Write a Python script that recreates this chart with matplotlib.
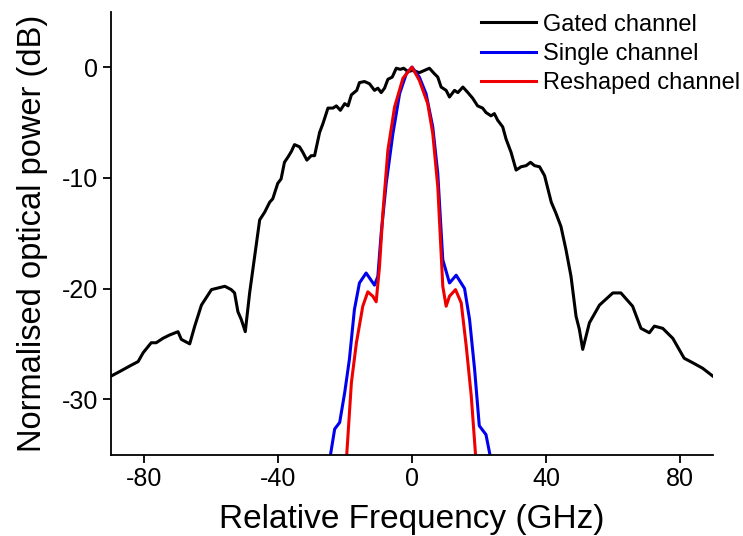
import numpy as np
import matplotlib
matplotlib.use("Agg")
import matplotlib.pyplot as plt

plt.rcParams['font.family'] = ['Liberation Sans', 'DejaVu Sans']
plt.rcParams['axes.unicode_minus'] = False

# gated channel (GHz, dB)
gated_f = [-89.8, -87.3, -84.3, -81.8, -80.3, -77.9, -76.4, -74.4, -72.4, -69.9, -68.9, -66.4,
           -64.9, -62.9, -59.9, -55.9, -54.0, -53.0, -52.0, -51.0, -49.8, -48.5, -47.0, -45.5,
           -44.0, -42.5, -41.6, -40.1, -39.1, -38.1, -37.0, -36.0, -35.1, -33.6, -32.6, -31.4,
           -30.1, -29.1, -27.6, -26.6, -25.1, -23.6, -22.6, -21.4, -20.1, -19.1, -18.1, -16.5,
           -15.7, -14.2, -12.7, -11.2, -10.2, -9.2, -8.2, -7.2, -5.9, -4.7, -3.5, -2.5, -1.2,
           0.2, 2.2, 3.7, 5.2, 6.7, 7.7, 8.7, 10.2, 11.2, 12.7, 13.7, 15.2, 16.7, 18.1, 19.6,
           21.1, 22.1, 23.6, 24.6, 25.6, 27.1, 28.1, 29.6, 31.1, 32.6, 34.1, 35.4, 36.6, 38.1,
           39.6, 41.6, 43.0, 44.5, 46.0, 47.5, 49.0, 50.0, 51.0, 53.0, 56.0, 60.0, 62.4, 65.9,
           68.4, 70.9, 72.4, 74.9, 77.9, 81.3, 83.8, 86.8, 89.8]
gated_db = [-27.9, -27.5, -27.0, -26.6, -25.8, -24.9, -24.9, -24.5, -24.2, -23.9, -24.6, -25.0,
            -23.4, -21.5, -20.1, -19.8, -20.1, -20.4, -22.1, -22.8, -23.9, -20.4, -17.1, -13.8,
            -13.1, -12.2, -11.9, -10.5, -10.1, -8.6, -8.1, -7.6, -7.0, -7.2, -7.7, -8.4,
            -8.0, -8.0, -5.9, -5.1, -3.7, -3.7, -3.5, -3.9, -3.3, -3.5, -2.5, -2.1,
            -1.4, -1.3, -1.5, -2.1, -1.9, -2.3, -1.9, -1.1, -0.9, -0.1, -0.2, -0.1, -0.4,
            -0.3, -0.5, -0.3, -0.1, -0.6, -0.9, -1.8, -2.1, -2.7, -2.1, -2.3, -1.8, -2.3, -2.8, -3.5,
            -3.7, -4.1, -4.4, -4.2, -4.8, -5.4, -6.5, -7.7, -9.3, -9.0, -8.9, -8.6, -8.9, -9.0,
            -9.8, -12.2, -13.2, -14.4, -16.5, -18.9, -22.5, -23.7, -25.5, -23.1, -21.5, -20.4, -20.4, -21.6,
            -23.6, -24.0, -23.4, -23.6, -24.5, -26.3, -26.7, -27.2, -27.9]

single_f = [-24.6, -23.1, -21.6, -20.1, -18.7, -17.2, -15.7, -13.7, -11.2, -10.2, -9.2, -7.7,
            -5.7, -3.7, -1.7, 0.0, 2.2, 4.2, 6.2, 7.7, 9.2, 11.2, 13.2, 15.7, 17.2, 18.7,
            20.1, 22.1, 23.6]
single_db = [-35.5, -32.7, -32.1, -29.4, -26.4, -21.9, -19.5, -18.6, -19.7, -18.9, -15.0, -10.5,
             -6.0, -2.4, -0.6, 0.0, -0.9, -2.4, -5.4, -9.6, -17.4, -19.5, -18.8, -20.0, -22.8, -27.3,
             -32.4, -33.2, -35.5]

reshaped_f = [-19.6, -18.1, -16.6, -14.7, -13.2, -11.7, -10.7, -9.7, -8.7, -7.2, -5.2, -2.7,
              0.0, 2.2, 4.7, 6.2, 7.7, 8.7, 9.2, 10.2, 11.2, 13.0, 14.7, 16.2, 17.7, 19.1]
reshaped_db = [-35.5, -28.5, -24.9, -21.6, -20.3, -20.7, -21.2, -18.0, -13.2, -7.5, -3.6, -1.0,
               0.0, -1.2, -3.3, -6.0, -10.8, -16.8, -19.8, -21.6, -20.7, -20.1, -21.3, -25.2, -29.7, -35.5]

fig = plt.figure(figsize=(7.43, 5.36), dpi=100)
ax = fig.add_axes([0.149, 0.152, 0.811, 0.826])

ax.plot(gated_f, gated_db, color='black', lw=2.2, solid_joinstyle='round', label='Gated channel')
ax.plot(single_f, single_db, color='#0000ee', lw=2.2, solid_joinstyle='round', label='Single channel')
ax.plot(reshaped_f, reshaped_db, color='#ee0000', lw=2.2, solid_joinstyle='round', label='Reshaped channel')

ax.set_xlim(-90, 90)
ax.set_ylim(-35, 5)
ax.set_xticks([-80, -40, 0, 40, 80])
ax.set_yticks([-30, -20, -10, 0])
ax.spines['top'].set_visible(False)
ax.spines['right'].set_visible(False)
for s in ['left', 'bottom']:
    ax.spines[s].set_linewidth(1.3)
ax.tick_params(direction='out', length=6, width=1.3, labelsize=18, pad=3)
ax.set_xlabel('Relative Frequency (GHz)', fontsize=24, labelpad=9)
ax.set_ylabel('Normalised optical power (dB)', fontsize=23.5, labelpad=10)

ax.legend(loc='upper left', frameon=False, fontsize=17, handlelength=2.35,
          handletextpad=0.3, labelspacing=0.31, borderpad=0.0, borderaxespad=0.0,
          bbox_to_anchor=(0.647, 0.9745), bbox_transform=fig.transFigure)

fig.savefig('out.png', dpi=100)
